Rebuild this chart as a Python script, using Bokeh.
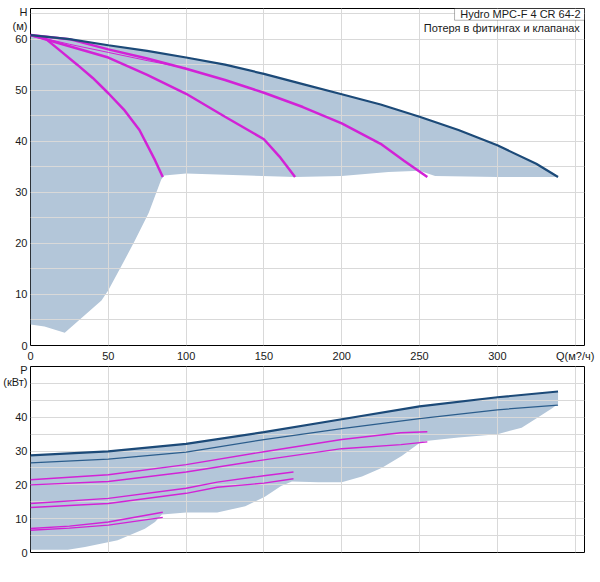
from bokeh.plotting import figure
from bokeh.layouts import column
from bokeh.models import Range1d, FixedTicker, BoxAnnotation, Label
from bokeh.embed import file_html
from bokeh.resources import INLINE

# ---------------- Head (H, м) vs flow (Q, м3/ч) ----------------
q_max = [0, 25, 50, 75, 100, 125, 150, 175, 200, 225, 250, 275, 300, 325, 339]
h_max = [60.8, 60.0, 58.8, 57.7, 56.4, 55.0, 53.2, 51.2, 49.2, 47.2, 44.8, 42.2, 39.2, 35.6, 33.0]

q_3 = [0, 25, 50, 75, 100, 125, 150, 175, 200, 225, 240, 255]
h_3 = [60.8, 60.0, 58.0, 56.2, 54.2, 52.0, 49.5, 46.7, 43.5, 39.5, 36.2, 33.0]
q_3thin = [0, 25, 50, 75, 100]
h_3thin = [60.8, 59.0, 57.4, 55.8, 54.3]

q_2 = [0, 25, 50, 75, 100, 125, 150, 160, 170]
h_2 = [60.8, 58.6, 56.4, 53.0, 49.3, 44.8, 40.4, 37.0, 33.0]

q_1 = [0, 10, 20, 30, 40, 50, 60, 70, 80, 85]
h_1 = [60.8, 60.0, 57.5, 55.0, 52.4, 49.4, 46.2, 42.2, 36.3, 33.0]

# lower boundary of the operating area (from right end back to Q=0)
q_hlow = [339, 300, 260, 250, 230, 200, 170, 140, 100, 86, 84, 76, 67, 58.5, 50, 45.6, 22, 9, 0]
h_hlow = [33.0, 33.0, 33.2, 34.2, 34.0, 33.2, 33.0, 33.3, 33.7, 33.3, 32.5, 26.0, 20.5, 15.6, 10.8, 8.8, 2.5, 3.7, 4.1]

# ---------------- Power (P, кВт) vs flow ----------------
q_pmax = [0, 50, 100, 150, 200, 250, 300, 339]
p_max = [28.7, 29.9, 32.1, 35.6, 39.4, 43.2, 45.9, 47.6]
p_max2 = [26.5, 27.6, 29.7, 33.4, 36.6, 39.6, 42.2, 43.6]

q_p3 = [0, 50, 100, 150, 200, 238, 255]
p_3a = [21.5, 23.0, 26.0, 29.8, 33.4, 35.4, 35.7]
p_3b = [20.0, 21.0, 23.8, 27.4, 30.7, 31.9, 32.7]

q_p2 = [0, 50, 100, 120, 150, 169]
p_2a = [14.5, 16.0, 19.0, 20.8, 22.7, 23.8]
p_2b = [13.3, 14.5, 17.5, 19.3, 20.5, 21.8]

q_p1 = [0, 25, 50, 85]
p_1a = [7.1, 7.8, 9.0, 11.9]
p_1b = [6.6, 7.2, 8.1, 10.4]

q_plow = [0, 24, 35, 56, 73.5, 80, 84.5, 100, 120, 138, 150.6, 161, 168, 185, 200, 213,
          225.6, 238.5, 250, 254, 275, 300, 315.6, 326, 335, 339]
p_low = [0.8, 0.8, 1.6, 3.6, 7.0, 9.0, 11.2, 11.8, 11.8, 13.7, 16.5, 19.7, 21.0, 20.8, 20.8, 22.5,
         25.0, 28.5, 32.4, 33.0, 34.0, 35.0, 36.9, 39.9, 42.6, 43.9]

x_ticks = [0, 50, 100, 150, 200, 250, 300, 350]
x_label_override = {350: "Q(м?/ч)"}
h_ticks = [0, 10, 20, 30, 40, 50, 60]
h_minor = [5, 15, 25, 35, 45, 55, 65]
h_unit_pos = {65.3: "H", 62.6: "(м)"}
p_ticks = [0, 10, 20, 30, 40]
p_minor = [5, 15, 25, 35, 45, 50]
p_unit_pos = {54.0: "P", 50.3: "(кВт)"}

title_text = "Hydro MPC-F 4 CR 64-2"
sub_text = "Потеря в фитингах и клапанах"

SHADE = "#b3c6d9"
BLUE = "#1c4a78"
BLUE2 = "#2b5d8c"
MAG = "#d222d6"
GRID = "#d9d9d9"
FONT = "Liberation Sans"
XMAX = 356


def style(p, yticks, yminor, units):
    p.outline_line_color = "black"
    p.outline_line_width = 1
    p.background_fill_color = "white"
    p.border_fill_color = "white"
    for ax in (p.xaxis, p.yaxis):
        ax.axis_line_color = None
        ax.major_tick_line_color = None
        ax.minor_tick_line_color = None
        ax.major_tick_out = 0
        ax.major_tick_in = 0
        ax.minor_tick_out = 0
        ax.minor_tick_in = 0
        ax.major_label_text_font = FONT
        ax.major_label_text_font_size = "11px"
        ax.major_label_text_color = "#1a1a1a"
    p.yaxis.major_label_standoff = 3
    p.xaxis.major_label_standoff = 4
    p.xaxis.ticker = FixedTicker(ticks=x_ticks)
    p.yaxis.ticker = FixedTicker(ticks=yticks + list(units.keys()))
    p.yaxis.major_label_overrides = dict(units)
    p.xgrid.ticker = FixedTicker(ticks=x_ticks)
    p.ygrid.ticker = FixedTicker(ticks=yticks, minor_ticks=yminor)
    p.xgrid.grid_line_color = GRID
    p.ygrid.grid_line_color = GRID
    p.ygrid.minor_grid_line_color = GRID
    p.xgrid.grid_line_width = 1
    p.ygrid.grid_line_width = 1


# ---------- top figure ----------
p1 = figure(width=600, height=364, x_range=Range1d(0, XMAX), y_range=Range1d(0, 66),
            output_backend="svg", toolbar_location=None,
            min_border_left=29, min_border_right=16, min_border_top=8, min_border_bottom=17)
style(p1, h_ticks, h_minor, h_unit_pos)
p1.xaxis.major_label_overrides = x_label_override

p1.patch(q_max + q_hlow, h_max + h_hlow, fill_color=SHADE, line_color=None, level="image")
p1.line(q_1, h_1, line_color=MAG, line_width=2.5)
p1.line(q_2, h_2, line_color=MAG, line_width=2.5)
p1.line(q_3, h_3, line_color=MAG, line_width=2.5)
p1.line(q_3thin, h_3thin, line_color=MAG, line_width=1)
p1.line(q_max, h_max, line_color=BLUE, line_width=2.2)

p1.add_layout(BoxAnnotation(left=272.5, right=XMAX, bottom=63.7, top=66,
                            fill_color="white", fill_alpha=1, line_color="black", line_width=1))
p1.add_layout(Label(x=353.5, y=64.85, text=title_text, text_align="right", text_baseline="middle",
                    text_font=FONT, text_font_size="11px", text_color="#1a1a1a"))
p1.add_layout(Label(x=353.0, y=62.1, text=sub_text, text_align="right", text_baseline="middle",
                    text_font=FONT, text_font_size="11px", text_color="#1a1a1a"))

# ---------- bottom figure ----------
p2 = figure(width=600, height=218, x_range=Range1d(0, XMAX), y_range=Range1d(0, 55),
            output_backend="svg", toolbar_location=None,
            min_border_left=29, min_border_right=16, min_border_top=2, min_border_bottom=30)
style(p2, p_ticks, p_minor, p_unit_pos)
p2.xaxis.visible = False

p2.patch(q_pmax + q_plow[::-1], p_max + p_low[::-1], fill_color=SHADE, line_color=None, level="image")
p2.line(q_p1, p_1a, line_color=MAG, line_width=1.4)
p2.line(q_p1, p_1b, line_color=MAG, line_width=1.4)
p2.line(q_p2, p_2a, line_color=MAG, line_width=1.4)
p2.line(q_p2, p_2b, line_color=MAG, line_width=1.4)
p2.line(q_p3, p_3a, line_color=MAG, line_width=1.4)
p2.line(q_p3, p_3b, line_color=MAG, line_width=1.4)
p2.line(q_pmax, p_max2, line_color=BLUE2, line_width=1.3)
p2.line(q_pmax, p_max, line_color=BLUE, line_width=2.2)

layout = column(p1, p2)
open("out.html", "w").write(file_html(layout, INLINE))
